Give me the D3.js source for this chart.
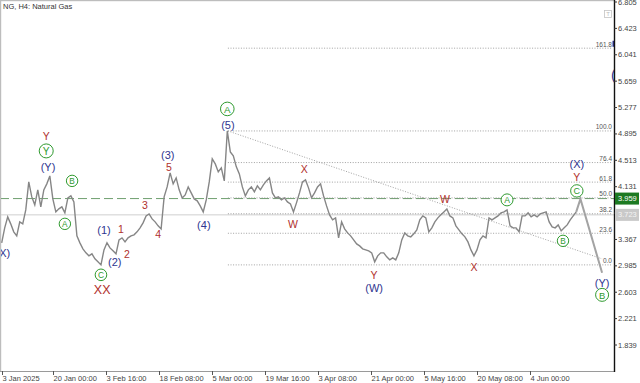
<!DOCTYPE html>
<html>
<head>
<meta charset="utf-8">
<script src="https://cdn.jsdelivr.net/npm/d3@7"></script>
<style>
  body { margin: 0; background: #fff; }
  svg { display: block; font-family: 'Liberation Sans', Arial, sans-serif; }
  .axis-lbl { font-size: 7.5px; fill: #444; }
  .fib-lbl { font-size: 6.5px; fill: #555; text-anchor: end; }
  .wave { text-anchor: middle; dominant-baseline: central; }
</style>
</head>
<body>
<svg id="chart" width="640" height="383"></svg>
<script>
// NG H4 closes, one value every 5 bars
var closes = [
  3.318, 3.535, 3.694, 3.593, 3.477, 3.419, 3.622, 3.593, 3.795, 4.200,
  3.983, 3.868, 4.085, 3.839, 4.085, 4.172, 4.287, 3.954, 3.766, 3.810,
  3.839, 3.752, 3.969, 3.998, 3.911, 3.419, 3.318, 3.231, 3.173, 3.130,
  3.159, 3.086, 3.043, 2.999, 3.216, 3.318, 3.245, 3.202, 3.159, 3.361,
  3.390, 3.332, 3.390, 3.419, 3.434, 3.477, 3.535, 3.607, 3.708, 3.737,
  3.665, 3.622, 3.564, 3.520, 3.983, 4.128, 4.331, 4.172, 4.258, 4.085,
  3.969, 4.012, 4.128, 4.041, 3.954, 3.926, 3.853, 3.766, 3.940, 4.200,
  4.533, 4.461, 4.345, 4.403, 4.215, 4.938, 4.635, 4.577, 4.418, 4.316,
  4.128, 3.998, 4.085, 4.128, 4.056, 4.143, 4.085, 4.157, 4.215, 4.258,
  4.041, 3.969, 3.983, 3.940, 3.969, 3.911, 3.882, 3.766, 3.897, 4.041,
  4.200, 4.229, 4.114, 3.969, 4.041, 4.128, 4.172, 3.998, 3.853, 3.723,
  3.651, 3.680, 3.390, 3.622, 3.520, 3.462, 3.419, 3.361, 3.303, 3.274,
  3.231, 3.216, 3.202, 3.173, 3.043, 3.130, 3.173, 3.173, 3.115, 3.072,
  3.101, 3.072, 3.173, 3.361, 3.462, 3.419, 3.405, 3.448, 3.506, 3.651,
  3.708, 3.680, 3.477, 3.535, 3.622, 3.680, 3.723, 3.766, 3.810, 3.708,
  3.680, 3.564, 3.506, 3.448, 3.405, 3.332, 3.216, 3.130, 3.216, 3.361,
  3.419, 3.390, 3.680, 3.651, 3.680, 3.708, 3.752, 3.766, 3.795, 3.564,
  3.535, 3.535, 3.477, 3.708, 3.708, 3.752, 3.694, 3.723, 3.694, 3.737,
  3.752, 3.766, 3.622, 3.549, 3.535, 3.578, 3.491, 3.535, 3.578, 3.651,
  3.708, 3.766
]
var barStep = 5

var dateTickBars = [0, 86, 174, 262, 350, 438, 526, 614, 702, 790, 878]
var dateTickLabels = ['3 Jan 2025', '20 Jan 00:00', '3 Feb 16:00', '18 Feb 08:00', '5 Mar 00:00',
  '19 Mar 16:00', '3 Apr 08:00', '21 Apr 00:00', '5 May 16:00', '20 May 08:00', '4 Jun 00:00']

var priceTicks = [6.805, 6.423, 6.041, 5.659, 5.277, 4.895, 4.513, 4.131, 3.749, 3.367, 2.985, 2.603, 2.221, 1.839]

var lastPrice = 3.959
var greyLevel = 3.723

// fibo grid: 100 at the (5) top, 0 at the projected low
var fibLevels = [0, 23.6, 38.2, 50, 61.8, 76.4, 100, 161.8]
var fibStartBar = 376
var fibHigh = 4.938
var fibLow = 2.999

var trendLine = [[376, 4.938], [998, 3.086]]
var projection = [[955, 3.766], [962, 3.954], [998, 2.884]]

// [bar, price, text]
var redLabels = [
  [74, 4.866, 'Y'], [198, 3.520, '1'], [208, 3.159, '2'], [238, 3.868, '3'], [260, 3.448, '4'],
  [278, 4.418, '5'], [167, 2.638, 'XX'], [503, 4.389, 'X'], [484, 3.593, 'W'], [619, 2.855, 'Y'],
  [737, 3.954, 'W'], [785, 2.971, 'X'], [956, 4.273, 'Y']
]
var blueLabels = [
  [77, 4.418, '(Y)'], [2, 3.173, '(X)'], [170, 3.506, '(1)'], [188, 3.043, '(2)'], [276, 4.591, '(3)'],
  [336, 3.578, '(4)'], [376, 5.025, '(5)'], [619, 2.667, '(W)'], [956, 4.461, '(X)'], [998, 2.739, '(Y)']
]
// [bar, price, text, circle radius]
var greenLabels = [
  [74, 4.649, 'Y', 7], [117, 4.215, 'B', 5.7], [105, 3.593, 'A', 5.7], [165, 2.855, 'C', 5.8],
  [375, 5.257, 'A', 6.8], [840, 3.940, 'A', 6], [956, 4.070, 'C', 6.2], [933, 3.347, 'B', 5.7],
  [998, 2.565, 'B', 6.5]
]

;(function () {
  var W = 640
  var plotR = 614
  var plotB = 371

  var svg = d3.select('#chart')

  var x = d3.scaleLinear().domain([0, 1000]).range([1.7, 603.3])
  var y = d3.scaleLinear().domain([6.805, 1.839]).range([2, 345])

  svg.append('defs').append('clipPath').attr('id', 'plot')
    .append('rect').attr('x', 1).attr('y', 1).attr('width', plotR - 1).attr('height', plotB - 1)

  // frame
  svg.append('rect').attr('x', 0).attr('y', 0).attr('width', plotR).attr('height', 1.2).attr('fill', '#bdbdbd')
  svg.append('rect').attr('x', 0).attr('y', 0).attr('width', 1.2).attr('height', plotB).attr('fill', '#bdbdbd')

  var g = svg.append('g').attr('clip-path', 'url(#plot)')

  /*
      levels
  */
  g.append('line')
    .attr('x1', 0).attr('x2', plotR)
    .attr('y1', y(greyLevel)).attr('y2', y(greyLevel))
    .attr('stroke', '#cfcfcf').attr('stroke-width', 1)

  g.append('line')
    .attr('x1', 0).attr('x2', plotR)
    .attr('y1', y(lastPrice)).attr('y2', y(lastPrice))
    .attr('stroke', '#6f9f6f').attr('stroke-width', 1)
    .attr('stroke-dasharray', '9,4')

  var fibY = lv => y(fibLow + (fibHigh - fibLow) * lv / 100)

  g.selectAll('.fib')
    .data(fibLevels)
    .enter().append('line')
    .classed('fib', true)
    .attr('x1', x(fibStartBar)).attr('x2', plotR - 2)
    .attr('y1', fibY).attr('y2', fibY)
    .attr('stroke', '#8a8a8a').attr('stroke-width', 0.8)
    .attr('stroke-dasharray', '1,1.6')

  g.selectAll('.fib-lbl')
    .data(fibLevels)
    .enter().append('text')
    .classed('fib-lbl', true)
    .attr('x', plotR - 2)
    .attr('y', d => fibY(d) - 1.5)
    .text(d => d.toFixed(1))

  g.append('line')
    .attr('x1', x(trendLine[0][0])).attr('y1', y(trendLine[0][1]))
    .attr('x2', x(trendLine[1][0])).attr('y2', y(trendLine[1][1]))
    .attr('stroke', '#8a8a8a').attr('stroke-width', 0.8)
    .attr('stroke-dasharray', '1,1.6')

  /*
      price
  */
  var line = d3.line()
    .x((d, i) => x(i * barStep))
    .y(d => y(d))

  g.append('path')
    .datum(closes)
    .attr('d', line)
    .attr('fill', 'none')
    .attr('stroke', '#868686')
    .attr('stroke-width', 1.4)

  g.append('path')
    .datum(projection)
    .attr('d', d3.line().x(d => x(d[0])).y(d => y(d[1])))
    .attr('fill', 'none')
    .attr('stroke', '#a3a3a3')
    .attr('stroke-width', 2)

  /*
      wave labels
  */
  g.selectAll('.red')
    .data(redLabels)
    .enter().append('text')
    .attr('class', 'wave red')
    .attr('x', d => x(d[0])).attr('y', d => y(d[1]))
    .attr('fill', '#b0302c')
    .style('font-size', d => d[2] === 'XX' ? '12.5px' : '10.5px')
    .text(d => d[2])

  g.selectAll('.blue')
    .data(blueLabels)
    .enter().append('text')
    .attr('class', 'wave blue')
    .attr('x', d => x(d[0])).attr('y', d => y(d[1]))
    .attr('fill', '#2f3590')
    .style('font-size', '11px')
    .text(d => d[2])

  var gl = g.selectAll('.green')
    .data(greenLabels)
    .enter().append('g')
    .attr('transform', d => `translate(${x(d[0])},${y(d[1])})`)

  gl.append('circle')
    .attr('r', d => d[3])
    .attr('fill', '#fff')
    .attr('stroke', '#2f9a2f')
    .attr('stroke-width', 1)

  gl.append('text')
    .attr('class', 'wave')
    .attr('y', 0.5)
    .attr('fill', '#2f9a2f')
    .style('font-size', d => (d[3] * 1.45) + 'px')
    .text(d => d[2])

  // bits of labels cut by the price scale
  g.append('text')
    .attr('x', plotR - 3).attr('y', y(5.75))
    .attr('fill', '#2f3590').style('font-size', '14px')
    .attr('dominant-baseline', 'central')
    .text('(')
  g.append('rect')
    .attr('x', plotR - 1.5).attr('y', y(6.2) - 3).attr('width', 1.5).attr('height', 6)
    .attr('fill', '#2f3590')

  // header
  svg.append('text')
    .attr('x', 3).attr('y', 9)
    .style('font-size', '7.5px').attr('fill', '#333')
    .text('NG, H4:  Natural Gas')

  svg.append('rect')
    .attr('x', 604.5).attr('y', 10.5).attr('width', 7).attr('height', 7)
    .attr('fill', 'none').attr('stroke', '#c4c4c4').attr('stroke-width', 0.8)
  svg.append('text')
    .attr('x', 608).attr('y', 16.2).attr('text-anchor', 'middle')
    .style('font-size', '6px').attr('fill', '#bbb')
    .text('T')

  /*
      axes
  */
  svg.append('line')
    .attr('x1', 0).attr('x2', plotR)
    .attr('y1', plotB + 0.5).attr('y2', plotB + 0.5)
    .attr('stroke', '#9a9a9a')

  svg.append('line')
    .attr('x1', plotR + 0.5).attr('x2', plotR + 0.5)
    .attr('y1', 0).attr('y2', plotB + 1)
    .attr('stroke', '#111').attr('stroke-width', 1.4)

  var tags = [[greyLevel, '#c9c9c9', '#f4f4f4'], [lastPrice, '#1d7a22', '#fff']]
  // a tick label sitting under a price tag is hidden, as in the terminal
  var hidden = v => tags.some(t => Math.abs(y(t[0]) - y(v)) < 9)

  var yt = svg.selectAll('.ytick')
    .data(priceTicks)
    .enter().append('g')
    .attr('transform', d => `translate(${plotR},${y(d)})`)
  yt.append('line').attr('x1', 0).attr('x2', 3).attr('stroke', '#333')
  yt.filter(d => !hidden(d)).append('text')
    .attr('class', 'axis-lbl')
    .attr('x', 4).attr('dominant-baseline', 'central')
    .text(d => d.toFixed(3))

  var xt = svg.selectAll('.xtick')
    .data(dateTickBars)
    .enter().append('g')
    .attr('transform', d => `translate(${Math.round(x(d)) + 0.5},${plotB})`)
  xt.append('line').attr('y1', 0).attr('y2', 4).attr('stroke', '#555')
  xt.append('text')
    .attr('class', 'axis-lbl')
    .attr('x', 0).attr('y', 10)
    .text((d, i) => dateTickLabels[i])

  // price tags
  var tg = svg.selectAll('.tag')
    .data(tags)
    .enter().append('g')
    .attr('transform', d => `translate(${plotR + 1},${y(d[0])})`)
  tg.append('rect')
    .attr('x', 0).attr('y', -6).attr('width', W - plotR - 2).attr('height', 12)
    .attr('fill', d => d[1])
  tg.append('text')
    .attr('class', 'axis-lbl')
    .attr('x', 3).attr('dominant-baseline', 'central')
    .style('fill', d => d[2])
    .text(d => d[0].toFixed(3))
})()
</script>
</body>
</html>
